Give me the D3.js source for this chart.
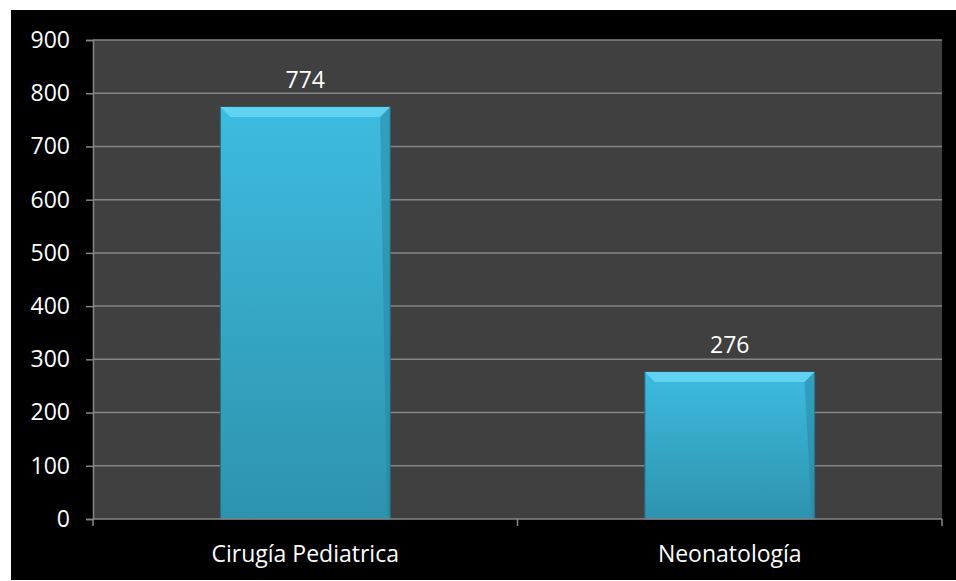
<!DOCTYPE html>
<html>
<head>
<meta charset="utf-8">
<script src="https://cdn.jsdelivr.net/npm/d3@7"></script>
<style>
  body { margin: 0; background: #fff; }
  text { font-family: "Open Sans", sans-serif; }
</style>
</head>
<body>
<div class="container"></div>
<script>
const categories = ['Cirugía Pediatrica', 'Neonatología'];
const values = [774, 276];
const yTicks = [0, 100, 200, 300, 400, 500, 600, 700, 800, 900];

const w = 956;
const h = 581;
const margin = { top: 40, right: 14, bottom: 62, left: 93 };
const width = w - margin.left - margin.right;
const height = h - margin.top - margin.bottom;
const fontSize = 23;

const svg = d3.select('.container').append('svg')
    .attr('width', w)
    .attr('height', h);

// black frame
svg.append('rect')
    .attr('x', 11).attr('y', 10)
    .attr('width', w - 11).attr('height', 570)
    .attr('fill', '#000');

const defs = svg.append('defs');
const grad = defs.append('linearGradient')
    .attr('id', 'barGrad')
    .attr('x1', 0).attr('y1', 0).attr('x2', 0).attr('y2', 1);
grad.append('stop').attr('offset', '0%').attr('stop-color', '#3dbbe0');
grad.append('stop').attr('offset', '100%').attr('stop-color', '#2e93ad');

const chart = svg.append('g')
    .attr('transform', `translate(${margin.left}, ${margin.top})`);

const x = d3.scaleBand()
    .domain(categories)
    .range([0, width])
    .paddingInner(0.6)
    .paddingOuter(0.3);

const y = d3.scaleLinear()
    .domain([0, 900])
    .range([height, 0]);

chart.append('rect')
    .attr('width', width)
    .attr('height', height)
    .attr('fill', '#404040');

// gridlines
chart.selectAll('.grid')
    .data(yTicks.filter(d => d > 0))
    .enter().append('line')
    .attr('x1', 0).attr('x2', width)
    .attr('y1', d => y(d)).attr('y2', d => y(d))
    .attr('stroke', '#868686')
    .attr('stroke-width', 1.5);

// bars
const bars = chart.selectAll('.bar')
    .data(values)
    .enter().append('g')
    .attr('class', 'bar');

const bev = 10;
bars.append('rect')
    .attr('x', (d, i) => x(categories[i]))
    .attr('y', d => y(d))
    .attr('width', x.bandwidth())
    .attr('height', d => height - y(d))
    .attr('fill', 'url(#barGrad)')
    .attr('stroke', '#1d6f86')
    .attr('stroke-width', 1);

// top bevel
bars.append('polygon')
    .attr('points', (d, i) => {
      const x0 = x(categories[i]), x1 = x0 + x.bandwidth(), t = y(d);
      return [[x0, t], [x1, t], [x1 - bev, t + bev], [x0 + bev, t + bev]].join(' ');
    })
    .attr('fill', '#5fd3ef');

// right edge shade
bars.append('polygon')
    .attr('points', (d, i) => {
      const x1 = x(categories[i]) + x.bandwidth(), t = y(d);
      return [[x1, t], [x1, height], [x1 - 3, height - 3], [x1 - bev, t + bev]].join(' ');
    })
    .attr('fill', '#2784a0')
    .attr('opacity', 0.5);

bars.append('text')
    .attr('x', (d, i) => x(categories[i]) + x.bandwidth() / 2)
    .attr('y', d => y(d) - 19)
    .attr('text-anchor', 'middle')
    .attr('fill', '#fff')
    .attr('font-size', fontSize)
    .text(d => d);

// y axis
const yAxis = d3.axisLeft(y).tickValues(yTicks).tickSize(7).tickPadding(16);
const ya = chart.append('g').call(yAxis);
ya.select('.domain').attr('stroke', '#868686').attr('stroke-width', 1.5);
ya.selectAll('.tick line').attr('stroke', '#868686').attr('stroke-width', 1.5);
ya.selectAll('.tick text')
    .attr('fill', '#fff')
    .attr('font-size', fontSize)
    .attr('font-family', '"Open Sans", sans-serif');

// x axis
const xa = chart.append('g').attr('transform', `translate(0, ${height})`);
xa.append('line')
    .attr('x1', 0).attr('x2', width)
    .attr('stroke', '#868686').attr('stroke-width', 1.5);
xa.selectAll('.div')
    .data([0, width / 2, width])
    .enter().append('line')
    .attr('x1', d => d).attr('x2', d => d)
    .attr('y1', 0).attr('y2', 7)
    .attr('stroke', '#868686').attr('stroke-width', 1.5);
xa.selectAll('.lbl')
    .data(categories)
    .enter().append('text')
    .attr('x', d => x(d) + x.bandwidth() / 2)
    .attr('y', 43)
    .attr('text-anchor', 'middle')
    .attr('fill', '#fff')
    .attr('font-size', fontSize)
    .text(d => d);
</script>
</body>
</html>
